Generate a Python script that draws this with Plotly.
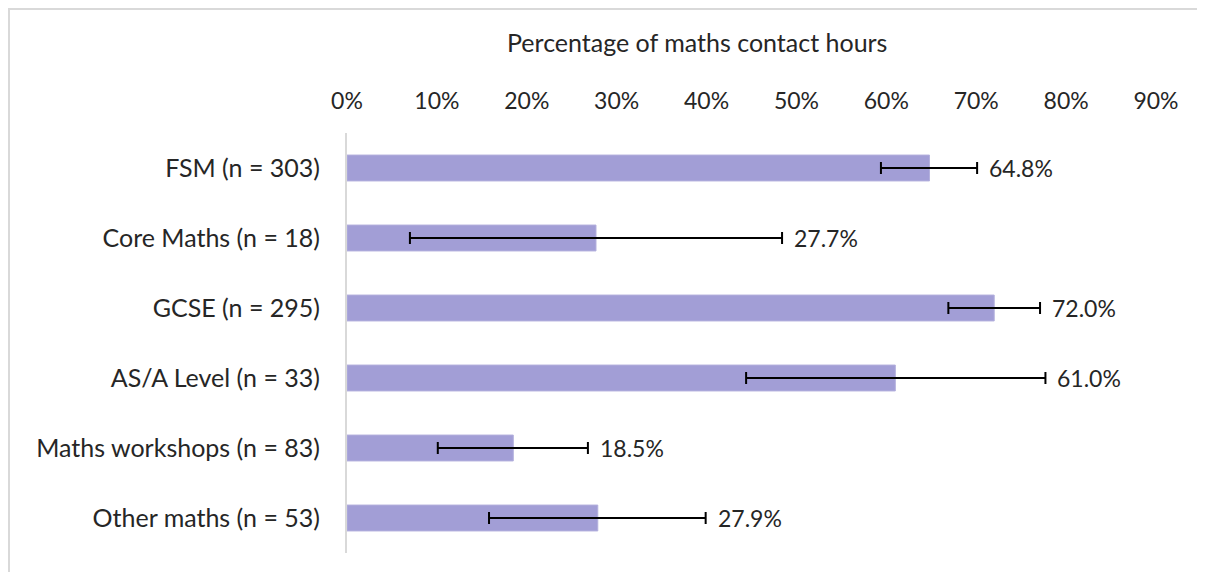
import plotly.graph_objects as go

categories = ["FSM (n = 303)", "Core Maths (n = 18)", "GCSE (n = 295)",
              "AS/A Level (n = 33)", "Maths workshops (n = 83)", "Other maths (n = 53)"]
values = [64.8, 27.7, 72.0, 61.0, 18.5, 27.9]
ci_lower = [59.4, 7.0, 66.9, 44.4, 10.1, 15.8]
ci_upper = [70.1, 48.4, 77.1, 77.7, 26.8, 39.9]
tick_vals = [0, 10, 20, 30, 40, 50, 60, 70, 80, 90]
tick_text = ["0%", "10%", "20%", "30%", "40%", "50%", "60%", "70%", "80%", "90%"]
axis_title = "Percentage of maths contact hours"

FONT = "Lato"
TXT = "#262626"

err_plus = [u - v for u, v in zip(ci_upper, values)]
err_minus = [v - l for v, l in zip(values, ci_lower)]

fig = go.Figure()
fig.add_trace(go.Bar(
    x=values, y=categories, orientation="h",
    marker=dict(color="#A29ED6", line=dict(color="#B3B0DD", width=1)),
    width=0.37,
    error_x=dict(type="data", symmetric=False, array=err_plus, arrayminus=err_minus,
                 color="black", thickness=2, width=6),
    hoverinfo="skip",
))

for c, v, u in zip(categories, values, ci_upper):
    fig.add_annotation(x=u, y=c, xref="x", yref="y", text=f"{v:.1f}%",
                       showarrow=False, xanchor="left", xshift=10,
                       font=dict(family=FONT, size=23, color=TXT))

# axis title (placed left of centre, as in the original)
fig.add_annotation(x=0.4326, y=1.2167, xref="paper", yref="paper", text=axis_title,
                   showarrow=False, xanchor="center", yanchor="middle",
                   font=dict(family=FONT, size=25, color=TXT))

# outer chart border (only left and top edges visible)
fig.add_shape(type="rect", xref="paper", yref="paper",
              x0=-0.4178, x1=1.3, y0=-0.3, y1=1.2952,
              line=dict(color="#D9D9D9", width=2), fillcolor="rgba(0,0,0,0)", layer="below")

# figure sized so that, with the page's 8px body margin, it fits the window without scrollbars
fig.update_layout(
    width=1189, height=564,
    margin=dict(l=339, r=41, t=125, b=19),
    paper_bgcolor="white", plot_bgcolor="white",
    showlegend=False,
    font=dict(family=FONT, size=24, color=TXT),
    xaxis=dict(range=[0, 90], side="top", tickvals=tick_vals, ticktext=tick_text,
               showgrid=False, zeroline=False, showline=False, ticks="",
               ticklabelstandoff=18, tickfont=dict(family=FONT, size=23, color=TXT),
               fixedrange=True, automargin=False),
    yaxis=dict(categoryorder="array", categoryarray=categories[::-1],
               range=[-0.5, 5.5], showgrid=False, zeroline=False,
               showline=True, linecolor="#D9D9D9", linewidth=2, ticks="",
               tickfont=dict(family=FONT, size=25, color=TXT),
               ticklabelstandoff=20, fixedrange=True, automargin=False),
)

fig.write_html("out.html")
